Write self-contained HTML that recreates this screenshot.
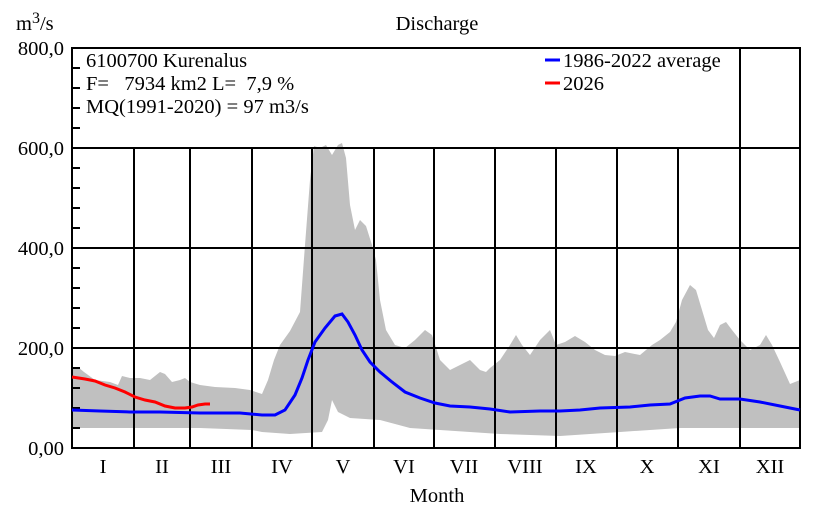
<!DOCTYPE html>
<html><head><meta charset="utf-8"><style>
body{margin:0;background:#fff}
svg{display:block}
text{font-family:"Liberation Serif",serif;font-size:20.5px;fill:#000;white-space:pre}
</style></head><body>
<svg width="840" height="520" viewBox="0 0 840 520">
<polygon fill="#c0c0c0" points="72,368 78,367 84,372 95,380 110,382 118,385 122,376 130,378 140,378 150,380 155,376 160,372 165,374 172,382 180,380 185,378 190,382 200,385 215,387 235,388 250,390 262,394 268,380 274,360 280,345 290,331 300,312 305,245 310,180 314,146 320,148 326,145 332,155 338,145 342,143 346,158 350,205 355,230 360,220 366,226 372,245 376,260 380,300 386,330 395,345 405,348 415,340 425,330 432,335 440,360 450,370 460,365 470,360 480,370 486,372 490,368 500,360 510,345 516,335 522,345 530,355 540,340 550,330 556,345 565,342 575,336 585,342 595,350 605,355 615,356 625,352 640,355 652,345 660,340 670,332 676,322 682,300 690,285 696,290 702,310 708,330 714,338 720,325 726,322 732,330 740,340 750,350 760,345 766,335 772,345 780,362 790,384 800,380 800,428 680,428 620,432 560,436 500,434 440,430 410,428 380,420 350,418 338,412 332,400 328,420 322,432 290,434 262,432 252,430 200,428 150,428 110,428 72,428"/>
<g stroke="#000" stroke-width="2" fill="none">
<line x1="72" y1="148" x2="800" y2="148"/>
<line x1="72" y1="248" x2="800" y2="248"/>
<line x1="72" y1="348" x2="800" y2="348"/>
<path d="M134 148V448M190 148V448M252 148V448M312 148V448M374 148V448M434 148V448M495 148V448M556 148V448M617 148V448M678 148V448M740 48V448"/>
<path d="M72 68h8M72 88h8M72 108h8M72 128h8M72 168h8M72 188h8M72 208h8M72 228h8M72 268h8M72 288h8M72 308h8M72 328h8M72 368h8M72 388h8M72 408h8M72 428h8"/>
<rect x="72" y="48" width="728" height="400"/>
</g>
<polyline fill="none" stroke="#0000ff" stroke-width="3" points="72,410 100,411 130,412 160,412 200,413 240,413 262,415 275,415 285,410 295,395 302,378 308,360 315,342 325,328 335,316 342,314 348,322 355,335 362,350 370,362 380,372 392,382 405,392 420,398 435,403 450,406 470,407 490,409 510,412 540,411 560,411 580,410 600,408 630,407 650,405 670,404 685,398 700,396 710,396 720,399 740,399 760,402 780,406 800,410"/>
<polyline fill="none" stroke="#ff0000" stroke-width="3" points="72,377 85,379 95,381 105,385 115,388 125,392 135,397 145,400 155,402 165,406 175,408 185,408 192,407 198,405 205,404 210,404"/>
<line x1="545" y1="60" x2="560" y2="60" stroke="#0000ff" stroke-width="3"/>
<line x1="545" y1="83" x2="560" y2="83" stroke="#ff0000" stroke-width="3"/>
<text x="563" y="67">1986-2022 average</text>
<text x="563" y="90">2026</text>
<text x="86" y="67">6100700 Kurenalus</text>
<text x="86" y="90">F=   7934 km2 L=  7,9 %</text>
<text x="86" y="113">MQ(1991-2020) = 97 m3/s</text>
<text x="16" y="30">m<tspan dy="-7" font-size="16">3</tspan><tspan dy="7">/s</tspan></text>
<text x="437" y="30" text-anchor="middle">Discharge</text>
<g text-anchor="end">
<text x="64" y="55">800,0</text>
<text x="64" y="155">600,0</text>
<text x="64" y="255">400,0</text>
<text x="64" y="355">200,0</text>
<text x="64" y="455">0,00</text>
</g>
<g text-anchor="middle">
<text x="103" y="473">I</text><text x="162" y="473">II</text><text x="221" y="473">III</text><text x="282" y="473">IV</text><text x="343" y="473">V</text><text x="404" y="473">VI</text><text x="464" y="473">VII</text><text x="525" y="473">VIII</text><text x="586" y="473">IX</text><text x="647" y="473">X</text><text x="709" y="473">XI</text><text x="770" y="473">XII</text>
<text x="437" y="502">Month</text>
</g>
</svg>
</body></html>
